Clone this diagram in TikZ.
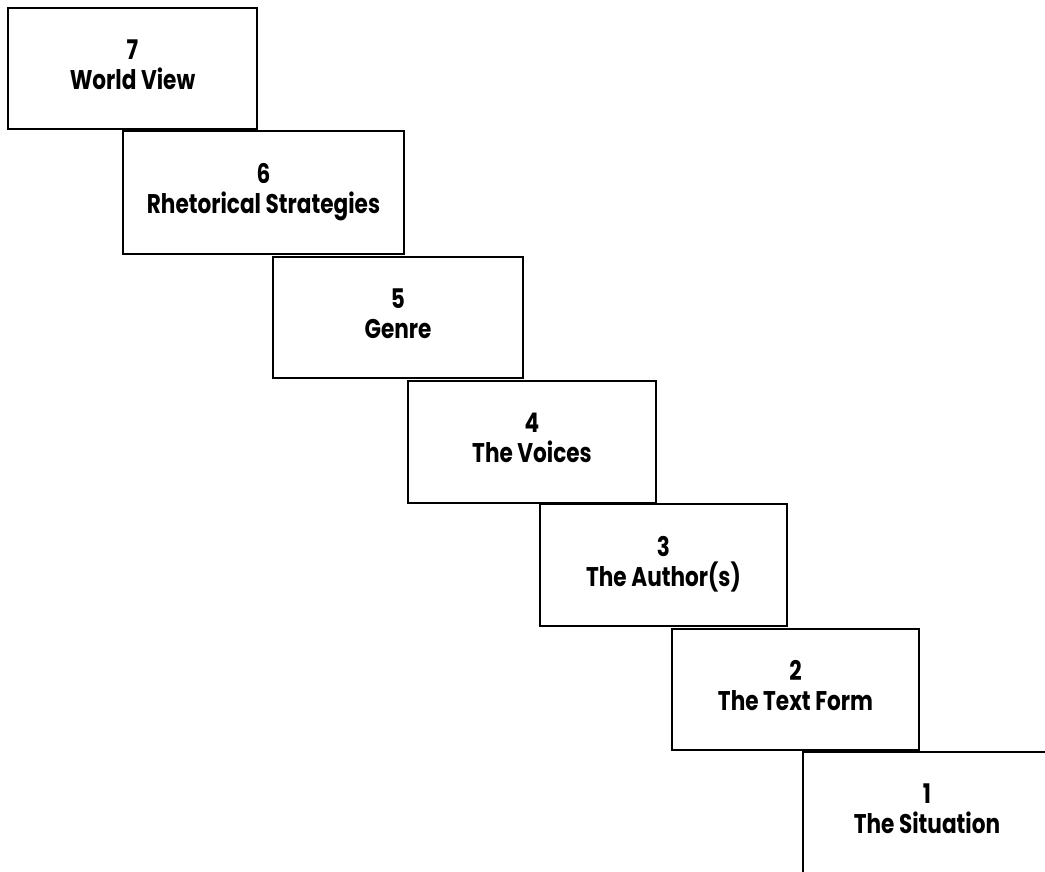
\documentclass[tikz,border=0pt]{standalone}
\usepackage{fontspec}
\setmainfont{Poppins}[BoldFont=*-Bold, FakeStretch=0.80]
\begin{document}
\begin{tikzpicture}[x=1pt,y=-1pt,
  stair/.style={draw=black, line width=1.4pt, rectangle, inner sep=0pt,
    minimum width=248pt, minimum height=122pt, align=center,
    font=\fontsize{27}{30}\selectfont\bfseries, text depth=8pt}]
\clip (0,0) rectangle (1045,871);
\fill[white] (0,0) rectangle (1045,871);
\node[stair, minimum width=249pt, minimum height=121pt] (s7) at (132.5,68.5) {7\\World View};
\node[stair, minimum width=281pt, minimum height=123pt] (s6) at (263.5,192.5) {6\\Rhetorical Strategies};
\node[stair, minimum width=250pt, minimum height=121pt] (s5) at (398,317.5) {5\\Genre};
\node[stair] (s4) at (532,442) {4\\The Voices};
\node[stair, minimum width=247pt] (s3) at (663.5,565) {3\\The Author(s)};
\node[stair, minimum width=247pt, minimum height=121pt] (s2) at (795.5,689.5) {2\\The Text Form};
\node[stair] (s1) at (927,813) {1\\The Situation};
\end{tikzpicture}
\end{document}
